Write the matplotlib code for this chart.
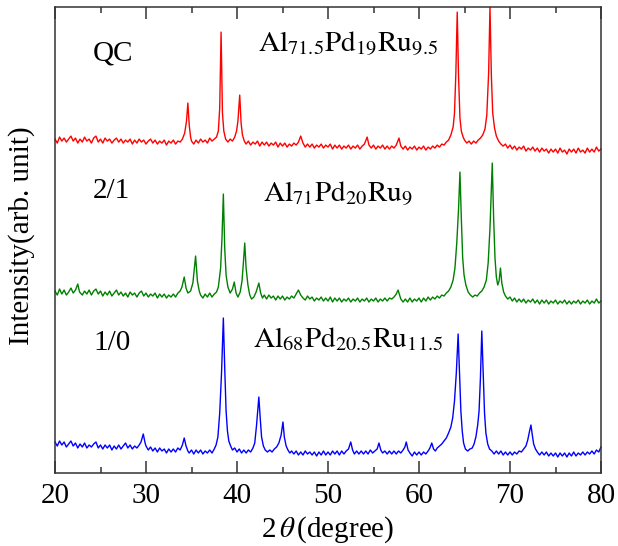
import matplotlib
matplotlib.use("Agg")
import matplotlib.pyplot as plt
from matplotlib.ticker import MultipleLocator

plt.rcParams["font.family"] = ["Liberation Serif", "DejaVu Serif"]
plt.rcParams["mathtext.fontset"] = "stix"

# (2theta, intensity); vertical offsets already included
qc_points = [
    (20.00, 334), (20.25, 330), (20.50, 336), (20.75, 332), (21.00, 335), (21.25, 331),
    (21.50, 334), (21.75, 337), (22.00, 332), (22.25, 335), (22.50, 330), (22.75, 334),
    (23.00, 331), (23.25, 336), (23.50, 332), (23.75, 334), (24.00, 330), (24.25, 335),
    (24.50, 337), (24.75, 331), (25.00, 334), (25.25, 330), (25.50, 335), (25.75, 332),
    (26.00, 334), (26.25, 330), (26.50, 333), (26.75, 335), (27.00, 331), (27.25, 334),
    (27.50, 330), (27.75, 333), (28.00, 331), (28.25, 334), (28.50, 329), (28.75, 333),
    (29.00, 330), (29.25, 334), (29.50, 331), (29.75, 333), (30.00, 329), (30.25, 332),
    (30.50, 334), (30.75, 330), (31.00, 333), (31.25, 329), (31.50, 332), (31.75, 330),
    (32.00, 333), (32.25, 328), (32.50, 332), (32.75, 330), (33.00, 333), (33.25, 329),
    (33.50, 332), (33.75, 331), (34.00, 334), (34.25, 340), (34.45, 352), (34.60, 370),
    (34.75, 348), (34.90, 336), (35.00, 332), (35.25, 329), (35.50, 333), (35.75, 330),
    (36.00, 334), (36.25, 331), (36.50, 333), (36.75, 330), (37.00, 335), (37.25, 332),
    (37.50, 334), (37.75, 336), (37.95, 342), (38.10, 365), (38.25, 441), (38.40, 360),
    (38.55, 342), (38.75, 334), (39.00, 331), (39.25, 334), (39.50, 332), (39.75, 336),
    (39.95, 342), (40.10, 352), (40.30, 378), (40.45, 350), (40.60, 338), (40.80, 332),
    (41.00, 329), (41.25, 332), (41.50, 328), (41.75, 331), (42.00, 329), (42.25, 332),
    (42.50, 327), (42.75, 331), (43.00, 328), (43.25, 331), (43.50, 327), (43.75, 330),
    (44.00, 328), (44.25, 331), (44.50, 326), (44.75, 330), (45.00, 327), (45.25, 330),
    (45.50, 326), (45.75, 329), (46.00, 327), (46.25, 330), (46.50, 328), (46.75, 331),
    (47.00, 337), (47.25, 330), (47.50, 326), (47.75, 329), (48.00, 326), (48.25, 329),
    (48.50, 325), (48.75, 328), (49.00, 326), (49.25, 329), (49.50, 325), (49.75, 328),
    (50.00, 326), (50.25, 329), (50.50, 324), (50.75, 328), (51.00, 325), (51.25, 328),
    (51.50, 324), (51.75, 327), (52.00, 325), (52.25, 328), (52.50, 324), (52.75, 327),
    (53.00, 325), (53.25, 328), (53.50, 324), (53.75, 327), (54.00, 329), (54.30, 336),
    (54.50, 328), (54.75, 325), (55.00, 328), (55.25, 324), (55.50, 327), (55.75, 325),
    (56.00, 328), (56.25, 324), (56.50, 327), (56.75, 324), (57.00, 327), (57.25, 325),
    (57.50, 328), (57.80, 335), (58.00, 327), (58.25, 324), (58.50, 327), (58.75, 323),
    (59.00, 326), (59.25, 324), (59.50, 327), (59.75, 323), (60.00, 326), (60.25, 324),
    (60.50, 327), (60.75, 323), (61.00, 326), (61.25, 324), (61.50, 327), (61.75, 325),
    (62.00, 328), (62.25, 326), (62.50, 329), (62.75, 328), (63.00, 331), (63.25, 333),
    (63.50, 338), (63.75, 346), (63.90, 360), (64.05, 400), (64.20, 461), (64.35, 395),
    (64.50, 355), (64.65, 342), (64.85, 336), (65.00, 333), (65.25, 330), (65.50, 332),
    (65.75, 329), (66.00, 332), (66.25, 330), (66.50, 333), (66.75, 335), (67.00, 338),
    (67.25, 344), (67.45, 358), (67.65, 400), (67.80, 466), (67.95, 398), (68.10, 360),
    (68.30, 345), (68.50, 337), (68.75, 332), (69.00, 329), (69.25, 327), (69.50, 329),
    (69.75, 325), (70.00, 328), (70.25, 324), (70.50, 327), (70.75, 323), (71.00, 326),
    (71.25, 324), (71.50, 327), (71.75, 322), (72.00, 325), (72.25, 323), (72.50, 326),
    (72.75, 322), (73.00, 325), (73.25, 321), (73.50, 325), (73.75, 322), (74.00, 324),
    (74.25, 320), (74.50, 324), (74.75, 321), (75.00, 324), (75.25, 320), (75.50, 325),
    (75.75, 321), (76.00, 323), (76.25, 319), (76.50, 324), (76.75, 321), (77.00, 324),
    (77.25, 320), (77.50, 325), (77.75, 321), (78.00, 323), (78.25, 320), (78.50, 325),
    (78.75, 321), (79.00, 324), (79.25, 321), (79.50, 326), (79.75, 322), (80.00, 324),
]

ap21_points = [
    (20.00, 182), (20.25, 178), (20.50, 184), (20.75, 179), (21.00, 183), (21.25, 178),
    (21.50, 181), (21.75, 185), (22.00, 180), (22.25, 183), (22.50, 189), (22.70, 181),
    (23.00, 178), (23.25, 182), (23.50, 179), (23.75, 183), (24.00, 178), (24.25, 182),
    (24.50, 184), (24.75, 179), (25.00, 182), (25.25, 177), (25.50, 181), (25.75, 178),
    (26.00, 182), (26.25, 177), (26.50, 180), (26.75, 183), (27.00, 178), (27.25, 181),
    (27.50, 177), (27.75, 180), (28.00, 176), (28.25, 181), (28.50, 178), (28.75, 180),
    (29.00, 176), (29.25, 180), (29.50, 182), (29.75, 177), (30.00, 180), (30.25, 176),
    (30.50, 179), (30.75, 177), (31.00, 180), (31.25, 175), (31.50, 179), (31.75, 176),
    (32.00, 179), (32.25, 175), (32.50, 178), (32.75, 176), (33.00, 179), (33.25, 176),
    (33.50, 180), (33.75, 182), (33.95, 186), (34.20, 196), (34.40, 185), (34.60, 180),
    (34.90, 182), (35.15, 190), (35.45, 217), (35.65, 192), (35.85, 182), (36.00, 178),
    (36.25, 175), (36.50, 179), (36.75, 176), (37.00, 180), (37.25, 176), (37.50, 179),
    (37.75, 181), (37.95, 186), (38.20, 205), (38.35, 235), (38.50, 279), (38.65, 225),
    (38.80, 198), (39.00, 186), (39.25, 180), (39.50, 184), (39.70, 191), (39.90, 180),
    (40.10, 176), (40.35, 181), (40.55, 192), (40.70, 210), (40.85, 230), (41.00, 205),
    (41.20, 188), (41.40, 178), (41.60, 174), (41.85, 176), (42.10, 181), (42.40, 190),
    (42.60, 180), (42.80, 175), (43.00, 178), (43.25, 174), (43.50, 178), (43.75, 175),
    (44.00, 177), (44.25, 173), (44.50, 177), (44.75, 174), (45.00, 177), (45.25, 173),
    (45.50, 176), (45.75, 174), (46.00, 177), (46.25, 175), (46.50, 179), (46.75, 183),
    (47.00, 178), (47.25, 175), (47.50, 173), (47.75, 177), (48.00, 174), (48.25, 176),
    (48.50, 172), (48.75, 175), (49.00, 173), (49.25, 176), (49.50, 172), (49.75, 175),
    (50.00, 172), (50.25, 176), (50.50, 171), (50.75, 175), (51.00, 172), (51.25, 175),
    (51.50, 171), (51.75, 174), (52.00, 172), (52.25, 175), (52.50, 171), (52.75, 174),
    (53.00, 172), (53.25, 175), (53.50, 171), (53.75, 174), (54.00, 172), (54.25, 175),
    (54.50, 171), (54.75, 174), (55.00, 172), (55.25, 175), (55.50, 171), (55.75, 174),
    (56.00, 172), (56.25, 175), (56.50, 172), (56.75, 175), (57.00, 174), (57.25, 176),
    (57.50, 179), (57.70, 183), (57.90, 177), (58.00, 174), (58.25, 171), (58.50, 174),
    (58.75, 171), (59.00, 175), (59.25, 171), (59.50, 174), (59.75, 172), (60.00, 175),
    (60.25, 171), (60.50, 175), (60.75, 172), (61.00, 176), (61.25, 173), (61.50, 176),
    (61.75, 174), (62.00, 177), (62.25, 175), (62.50, 178), (62.75, 177), (63.00, 180),
    (63.25, 182), (63.50, 186), (63.75, 193), (63.95, 205), (64.15, 230), (64.35, 265),
    (64.50, 301), (64.65, 255), (64.80, 215), (64.95, 198), (65.15, 188), (65.40, 181),
    (65.65, 178), (65.90, 176), (66.15, 178), (66.40, 177), (66.65, 180), (66.90, 182),
    (67.15, 186), (67.40, 193), (67.60, 210), (67.80, 245), (67.95, 285), (68.05, 310),
    (68.20, 255), (68.35, 215), (68.50, 196), (68.65, 188), (68.80, 192), (68.95, 205),
    (69.10, 190), (69.30, 181), (69.50, 177), (69.75, 174), (70.00, 176), (70.25, 172),
    (70.50, 175), (70.75, 171), (71.00, 174), (71.25, 171), (71.50, 174), (71.75, 170),
    (72.00, 173), (72.25, 171), (72.50, 174), (72.75, 170), (73.00, 173), (73.25, 169),
    (73.50, 173), (73.75, 170), (74.00, 173), (74.25, 169), (74.50, 172), (74.75, 170),
    (75.00, 173), (75.25, 169), (75.50, 172), (75.75, 170), (76.00, 173), (76.25, 169),
    (76.50, 172), (76.75, 169), (77.00, 172), (77.25, 170), (77.50, 173), (77.75, 169),
    (78.00, 172), (78.25, 170), (78.50, 173), (78.75, 169), (79.00, 172), (79.25, 170),
    (79.50, 174), (79.75, 170), (80.00, 172),
]

ap10_points = [
    (20.00, 31), (20.25, 27), (20.50, 32), (20.75, 28), (21.00, 31), (21.25, 26),
    (21.50, 29), (21.75, 32), (22.00, 27), (22.25, 30), (22.50, 25), (22.75, 29),
    (23.00, 26), (23.25, 30), (23.50, 25), (23.75, 28), (24.00, 26), (24.25, 29),
    (24.50, 31), (24.75, 25), (25.00, 28), (25.25, 24), (25.50, 28), (25.75, 25),
    (26.00, 28), (26.25, 23), (26.50, 27), (26.75, 24), (27.00, 28), (27.25, 24),
    (27.50, 27), (27.75, 30), (28.00, 25), (28.25, 28), (28.50, 24), (28.75, 27),
    (29.00, 25), (29.25, 28), (29.45, 31), (29.70, 39), (29.90, 30), (30.00, 27),
    (30.25, 23), (30.50, 26), (30.75, 22), (31.00, 25), (31.25, 21), (31.50, 25),
    (31.75, 22), (32.00, 24), (32.25, 20), (32.50, 24), (32.75, 21), (33.00, 24),
    (33.25, 21), (33.50, 25), (33.75, 23), (34.00, 28), (34.20, 35), (34.40, 27),
    (34.60, 22), (34.75, 20), (35.00, 23), (35.25, 19), (35.50, 23), (35.75, 20),
    (36.00, 23), (36.25, 19), (36.50, 22), (36.75, 20), (37.00, 23), (37.25, 20),
    (37.50, 24), (37.70, 28), (37.90, 36), (38.10, 60), (38.30, 100), (38.50, 155),
    (38.65, 105), (38.80, 62), (38.95, 42), (39.10, 32), (39.30, 27), (39.50, 23),
    (39.75, 25), (40.00, 21), (40.25, 24), (40.50, 20), (40.75, 23), (41.00, 20),
    (41.25, 23), (41.50, 21), (41.75, 25), (41.95, 30), (42.15, 48), (42.40, 76),
    (42.55, 55), (42.70, 36), (42.90, 27), (43.10, 23), (43.35, 21), (43.60, 23),
    (43.85, 21), (44.10, 24), (44.35, 26), (44.60, 30), (44.85, 38), (45.05, 51),
    (45.20, 36), (45.40, 27), (45.60, 23), (45.80, 20), (46.00, 22), (46.25, 19),
    (46.50, 22), (46.75, 18), (47.00, 21), (47.25, 18), (47.50, 22), (47.75, 19),
    (48.00, 21), (48.25, 18), (48.50, 21), (48.75, 17), (49.00, 21), (49.25, 18),
    (49.50, 22), (49.75, 18), (50.00, 21), (50.25, 18), (50.50, 22), (50.75, 19),
    (51.00, 22), (51.25, 18), (51.50, 22), (51.75, 19), (52.00, 22), (52.25, 24),
    (52.50, 31), (52.70, 23), (52.90, 19), (53.15, 22), (53.40, 19), (53.65, 22),
    (53.90, 19), (54.15, 22), (54.40, 19), (54.65, 23), (54.90, 20), (55.15, 22),
    (55.40, 24), (55.60, 30), (55.80, 23), (56.00, 20), (56.25, 22), (56.50, 19),
    (56.75, 22), (57.00, 19), (57.25, 22), (57.50, 19), (57.75, 22), (58.00, 20),
    (58.25, 23), (58.45, 26), (58.60, 31), (58.80, 23), (59.00, 20), (59.25, 17),
    (59.50, 21), (59.75, 18), (60.00, 21), (60.25, 18), (60.50, 21), (60.75, 19),
    (61.00, 22), (61.20, 25), (61.40, 30), (61.60, 24), (61.80, 22), (62.00, 25),
    (62.25, 27), (62.50, 29), (62.75, 32), (63.00, 35), (63.25, 40), (63.50, 46),
    (63.70, 55), (63.90, 72), (64.10, 100), (64.30, 139), (64.45, 100), (64.60, 62),
    (64.75, 42), (64.90, 30), (65.10, 24), (65.35, 22), (65.60, 24), (65.85, 25),
    (66.05, 29), (66.25, 36), (66.45, 48), (66.60, 62), (66.75, 95), (66.90, 142),
    (67.05, 100), (67.20, 60), (67.35, 40), (67.55, 29), (67.75, 24), (68.00, 22),
    (68.25, 19), (68.50, 22), (68.75, 19), (69.00, 22), (69.25, 18), (69.50, 21),
    (69.75, 18), (70.00, 21), (70.25, 18), (70.50, 21), (70.75, 19), (71.00, 22),
    (71.25, 21), (71.50, 24), (71.75, 27), (71.95, 33), (72.15, 42), (72.30, 48),
    (72.45, 38), (72.60, 29), (72.80, 24), (73.00, 21), (73.25, 18), (73.50, 21),
    (73.75, 18), (74.00, 21), (74.25, 17), (74.50, 20), (74.75, 17), (75.00, 20),
    (75.25, 16), (75.50, 20), (75.75, 17), (76.00, 20), (76.25, 16), (76.50, 20),
    (76.75, 17), (77.00, 21), (77.25, 17), (77.50, 20), (77.75, 18), (78.00, 21),
    (78.25, 18), (78.50, 21), (78.75, 19), (79.00, 22), (79.25, 19), (79.50, 23),
    (79.75, 21), (80.00, 26),
]

phase_labels = ["QC", "2/1", "1/0"]
compositions = [r"$\mathrm{Al_{71.5}Pd_{19}Ru_{9.5}}$",
                r"$\mathrm{Al_{71}Pd_{20}Ru_{9}}$",
                r"$\mathrm{Al_{68}Pd_{20.5}Ru_{11.5}}$"]
colors = ["#ff0000", "#008000", "#0000ff"]


def main() -> None:
    fig = plt.figure(figsize=(6.18, 5.46), dpi=100)
    ax = fig.add_axes([0.089, 0.1337, 0.8835, 0.8533])

    for pts, c in zip([qc_points, ap21_points, ap10_points], colors):
        x, y = zip(*pts)
        ax.plot(x, y, color=c, lw=1.0, clip_on=False)

    label_pos = [(24.2, 413), (24.2, 275), (24.2, 123)]
    comp_pos = [(42.3, 421), (42.9, 271), (41.8, 126)]
    for name, (lx, ly), comp, (cx, cy) in zip(phase_labels, label_pos, compositions, comp_pos):
        ax.text(lx, ly, name, fontsize=21, ha="left", va="baseline")
        ax.text(cx, cy, comp, fontsize=21, ha="left", va="baseline")

    ax.set_xlim(20, 80)
    ax.set_ylim(0, 466)
    ax.set_yticks([])
    ax.xaxis.set_major_locator(MultipleLocator(10))
    ax.xaxis.set_minor_locator(MultipleLocator(5))
    ax.tick_params(axis="x", which="both", direction="in", top=True,
                   labelsize=21, color="#333333", width=1.1, pad=7)
    ax.tick_params(axis="x", which="major", length=8.5)
    ax.tick_params(axis="x", which="minor", length=4)
    for sp in ax.spines.values():
        sp.set_color("#333333")
        sp.set_linewidth(1.1)

    ax.set_xlabel("2$\\,\\theta\\,$(degree)", fontsize=21, labelpad=4)
    ax.set_ylabel("Intensity(arb. unit)", fontsize=21)
    ax.yaxis.set_label_coords(-0.036, 0.51)

    fig.savefig("out.png", dpi=100)
    plt.close(fig)


if __name__ == "__main__":
    main()
